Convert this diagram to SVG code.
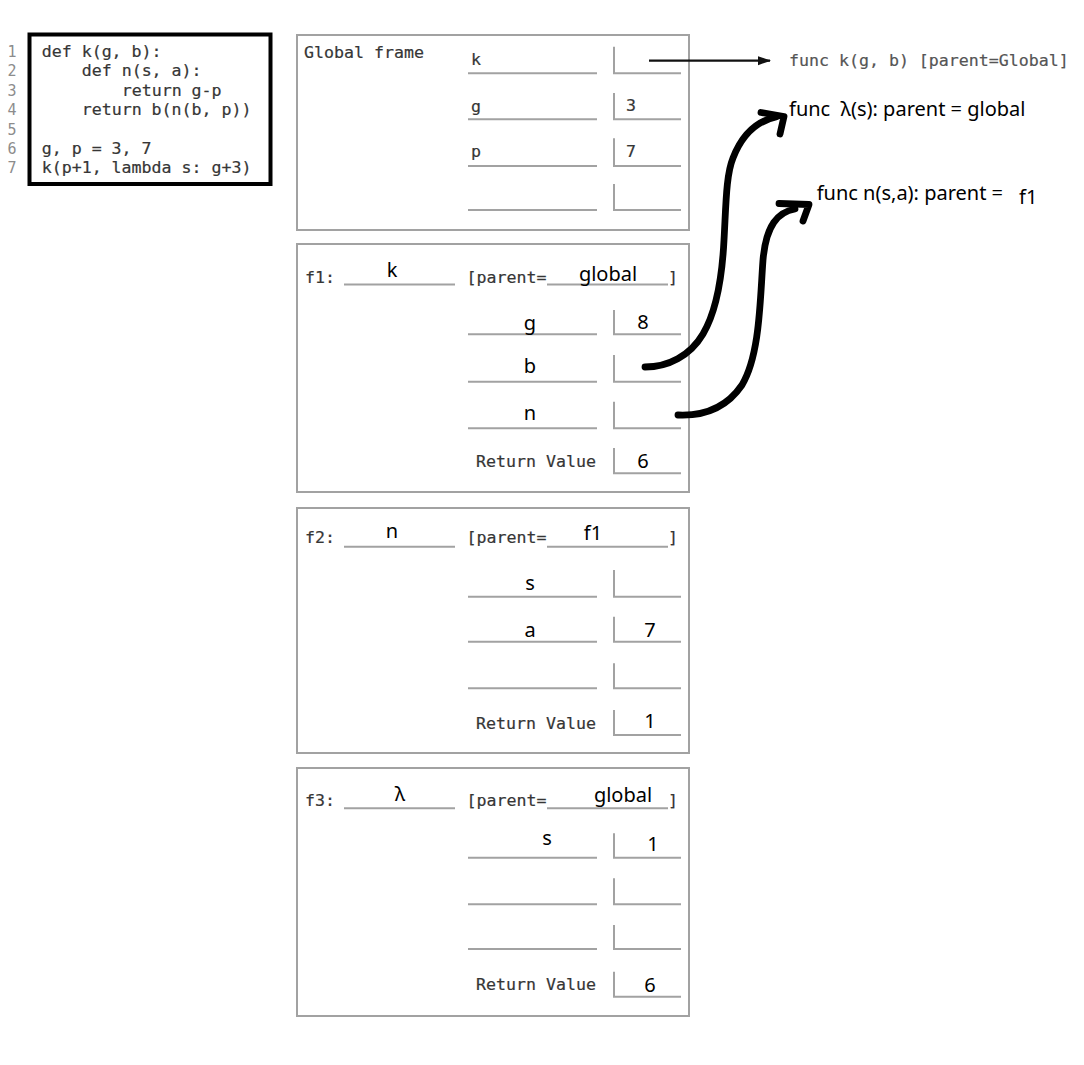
<svg xmlns="http://www.w3.org/2000/svg" width="1084" height="1065" viewBox="0 0 1084 1065">
  <style>
    .mono { font-family: "DejaVu Sans Mono", "Liberation Mono", monospace; font-size: 16.6px; fill: #363636; stroke: #363636; stroke-width: 0.2px; }
    .lineno { font-family: "DejaVu Sans Mono", "Liberation Mono", monospace; font-size: 15px; fill: #8c8c8c; text-anchor: middle; }
    .hand { font-family: "Noto Sans", "Liberation Sans", sans-serif; font-size: 20px; fill: #000; }
    .mid { text-anchor: middle; }
    .frame { fill: #fff; stroke: #a2a2a2; stroke-width: 2; }
    .rule { stroke: #a2a2a2; stroke-width: 2; fill: none; }
    .ink { fill: none; stroke: #000; stroke-width: 6.8; stroke-linecap: round; stroke-linejoin: round; }
  </style>
  <defs>
    <marker id="tri" markerWidth="13" markerHeight="10" refX="12" refY="5" orient="auto" markerUnits="userSpaceOnUse">
      <path d="M0,0.5 L13,5 L0,9.5 Z" fill="#111"/>
    </marker>
  </defs>

  <rect width="1084" height="1065" fill="#fff"/>

  <!-- source listing -->
  <g id="code">
    <rect x="29.5" y="34.5" width="241" height="149.5" fill="#fff" stroke="#000" stroke-width="4"/>
    <text class="lineno" x="12" y="57">1</text>
    <text class="lineno" x="12" y="76.4">2</text>
    <text class="lineno" x="12" y="95.8">3</text>
    <text class="lineno" x="12" y="115.2">4</text>
    <text class="lineno" x="12" y="134.6">5</text>
    <text class="lineno" x="12" y="154">6</text>
    <text class="lineno" x="12" y="173.4">7</text>
    <text class="mono" x="41.7" y="57">def k(g, b):</text>
    <text class="mono" x="81.7" y="76.4">def n(s, a):</text>
    <text class="mono" x="121.7" y="95.8">return g-p</text>
    <text class="mono" x="81.7" y="115.2">return b(n(b, p))</text>
    <text class="mono" x="41.7" y="154">g, p = 3, 7</text>
    <text class="mono" x="41.7" y="173.4">k(p+1, lambda s: g+3)</text>
  </g>

  <!-- global frame -->
  <g id="frame-global">
    <rect class="frame" x="297" y="35" width="392" height="195"/>
    <text class="mono" x="304" y="58.3">Global frame</text>
    <text class="mono" x="471" y="65">k</text>
    <text class="mono" x="471" y="111.5">g</text>
    <text class="mono" x="471" y="156.5">p</text>
    <text class="mono" x="626" y="110.5">3</text>
    <text class="mono" x="626" y="156.5">7</text>
    <path class="rule" d="M468,73.3 H597 M614,46.7 V73.3 H681 M468,119.3 H597 M614,93 V119.3 H681 M468,166 H597 M614,138.3 V166 H681 M468,210 H597 M614,184 V210 H681"/>
  </g>

  <!-- frame f1 -->
  <g id="frame-f1">
    <rect class="frame" x="297" y="244" width="392" height="248"/>
    <text class="mono" x="305" y="282.5">f1:</text>
    <text class="mono" x="466.5" y="282.5">[parent=</text>
    <text class="mono" x="668" y="282.5">]</text>
    <path class="rule" d="M344,284.5 H455 M547,284.5 H668 M468,334.3 H597 M614,310 V334.3 H681 M468,381.7 H597 M614,355 V381.7 H681 M468,428.3 H597 M614,401.7 V428.3 H681 M614,448 V473.3 H681"/>
    <text class="mono" x="476" y="466.5">Return Value</text>
    <text class="hand mid" x="392" y="277">k</text>
    <text class="hand mid" x="608" y="281">global</text>
    <text class="hand mid" x="530" y="330">g</text>
    <text class="hand mid" x="530" y="373.3">b</text>
    <text class="hand mid" x="530" y="420">n</text>
    <text class="hand mid" x="643" y="329.3">8</text>
    <text class="hand mid" x="643" y="467.7">6</text>
  </g>

  <!-- frame f2 -->
  <g id="frame-f2">
    <rect class="frame" x="297" y="508" width="392" height="245"/>
    <text class="mono" x="305" y="543">f2:</text>
    <text class="mono" x="466.5" y="543">[parent=</text>
    <text class="mono" x="668" y="543">]</text>
    <path class="rule" d="M344,546.7 H455 M547,546.7 H668 M468,596.7 H597 M614,570 V596.7 H681 M468,641.7 H597 M614,616.7 V641.7 H681 M468,688.3 H597 M614,663.3 V688.3 H681 M614,710 V735 H681"/>
    <text class="mono" x="476" y="729">Return Value</text>
    <text class="hand mid" x="392" y="537.7">n</text>
    <text class="hand mid" x="593" y="540">f1</text>
    <text class="hand mid" x="530" y="590">s</text>
    <text class="hand mid" x="530" y="636.7">a</text>
    <text class="hand mid" x="650" y="636.7">7</text>
    <text class="hand mid" x="650" y="728.3">1</text>
  </g>

  <!-- frame f3 -->
  <g id="frame-f3">
    <rect class="frame" x="297" y="768" width="392" height="248"/>
    <text class="mono" x="305" y="805.5">f3:</text>
    <text class="mono" x="466.5" y="805.5">[parent=</text>
    <text class="mono" x="668" y="805.5">]</text>
    <path class="rule" d="M344,808.3 H455 M547,808.3 H668 M468,857.7 H597 M614,833.3 V857.7 H681 M468,904.3 H597 M614,878.3 V904.3 H681 M468,949 H597 M614,925 V949 H681 M614,971.7 V996.7 H681"/>
    <text class="mono" x="476" y="990">Return Value</text>
    <text class="hand mid" x="400" y="801">λ</text>
    <text class="hand mid" x="623" y="802.3">global</text>
    <text class="hand mid" x="547" y="845">s</text>
    <text class="hand mid" x="653" y="851">1</text>
    <text class="hand mid" x="650" y="991.7">6</text>
  </g>

  <!-- function objects -->
  <g id="func-k">
    <text class="mono" x="789" y="66" style="fill:#555;stroke:#555">func k(g, b) [parent=Global]</text>
  </g>
  <g id="func-lambda">
    <text class="hand" x="789" y="116" xml:space="preserve">func  λ(s): parent = global</text>
  </g>
  <g id="func-n">
    <text class="hand" x="816.7" y="200">func n(s,a): parent =</text>
    <text class="hand" x="1019" y="203.5">f1</text>
  </g>

  <!-- pointers -->
  <g id="connectors">
    <line x1="649" y1="60.7" x2="770" y2="60.7" stroke="#111" stroke-width="2.2" marker-end="url(#tri)"/>
    <path class="ink" d="M645,367 C668,367 690,356 703,334 C716,312 722,280 724,240 C726,205 726,175 733,158 C740,140 752,122 776,117"/>
    <path class="ink" d="M761,112.5 L784,116.5 L780,134"/>
    <path class="ink" d="M678,415 C700,416 725,410 742,385 C760,355 760,300 763,260 C766,225 778,212 795,209"/>
    <path class="ink" d="M779,203.5 L809,204.5 L803,221"/>
  </g>
</svg>
